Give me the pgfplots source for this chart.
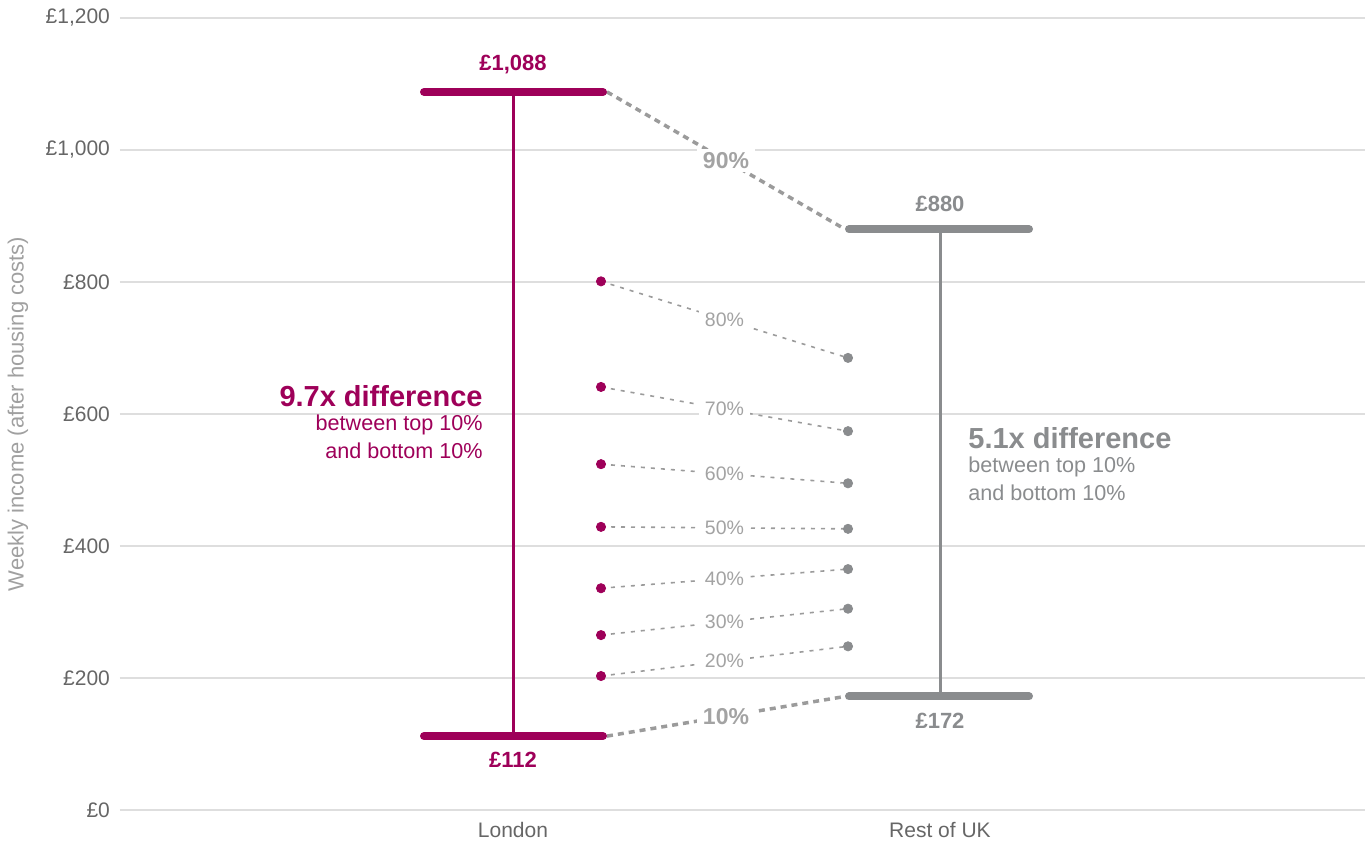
\documentclass[border=0pt]{standalone}
\usepackage{fontspec}
\setmainfont{Liberation Sans}
\usepackage{pgfplots}
\pgfplotsset{compat=1.18}
\definecolor{mag}{HTML}{9E0059}
\definecolor{bargray}{HTML}{8A8C8E}
\definecolor{dashgray}{HTML}{9B9B9B}
\definecolor{pctgray}{HTML}{A3A3A3}
\definecolor{tickgray}{HTML}{666666}
\definecolor{gridgray}{HTML}{DEDEDE}
\definecolor{labgray}{HTML}{A0A0A0}
\tikzset{
  pct/.style={fill=white, inner xsep=3pt, inner ysep=1.5pt, font=\fontsize{9.75}{11}\selectfont, text=pctgray},
  pctb/.style={fill=white, inner xsep=3pt, inner ysep=1.5pt, font=\fontsize{11.5}{13}\selectfont\bfseries, text=pctgray},
}
\begin{document}
\begin{tikzpicture}
\begin{axis}[
  scale only axis, width=622.5pt, height=396pt,
  xmin=120, xmax=1365, ymin=0, ymax=1200,
  axis line style={draw=none},
  major tick length=0pt,
  ytick={0,200,400,600,800,1000,1200},
  yticklabels={£0,£200,£400,£600,£800,{£1,000},{£1,200}},
  xtick={513,940}, xticklabels={London,Rest of UK},
  ymajorgrids, grid style={color=gridgray, line width=0.6pt},
  ticklabel style={font=\fontsize{10.5}{12}\selectfont, color=tickgray},
  yticklabel style={xshift=-1.5pt},
  xticklabel style={yshift=-2.5pt},
  ylabel={Weekly income (after housing costs)},
  ylabel style={at={(rel axis cs:0,0.5)}, anchor=center, yshift=51pt, font=\fontsize{11}{13}\selectfont, color=labgray},
  clip=false,
]
\coordinate (sw) at (rel axis cs:0,0);
\coordinate (ne) at (rel axis cs:1,1);
% thin dashed percentile connectors
\addplot[dashgray, line width=0.8pt, dash pattern=on 2pt off 3pt] coordinates {(601,203) (848,248)};
\addplot[dashgray, line width=0.8pt, dash pattern=on 2pt off 3pt] coordinates {(601,265) (848,305)};
\addplot[dashgray, line width=0.8pt, dash pattern=on 2pt off 3pt] coordinates {(601,336) (848,365)};
\addplot[dashgray, line width=0.8pt, dash pattern=on 2pt off 3pt] coordinates {(601,429) (848,426)};
\addplot[dashgray, line width=0.8pt, dash pattern=on 2pt off 3pt] coordinates {(601,524) (848,495)};
\addplot[dashgray, line width=0.8pt, dash pattern=on 2pt off 3pt] coordinates {(601,641) (848,574)};
\addplot[dashgray, line width=0.8pt, dash pattern=on 2pt off 3pt] coordinates {(601,801) (848,685)};
% thick dashed connectors
\addplot[dashgray, line width=1.75pt, dash pattern=on 3pt off 2.5pt] coordinates {(607,1088) (845,880)};
\addplot[dashgray, line width=1.75pt, dash pattern=on 3pt off 2.5pt] coordinates {(607,112) (845,172)};
% labels
\node[pct] at (axis cs:724.5,225.5) {20\%};
\node[pct] at (axis cs:724.5,285) {30\%};
\node[pct] at (axis cs:724.5,350.5) {40\%};
\node[pct] at (axis cs:724.5,427.5) {50\%};
\node[pct] at (axis cs:724.5,509.5) {60\%};
\node[pct] at (axis cs:724.5,607.5) {70\%};
\node[pct] at (axis cs:724.5,743) {80\%};
\node[pctb] at (axis cs:726,984) {90\%};
\node[pctb] at (axis cs:726,142) {10\%};
% London
\addplot[mag, line width=1.5pt] coordinates {(513,112) (513,1088)};
\addplot[mag, line width=4pt, line cap=round] coordinates {(424,1088) (603,1088)};
\addplot[mag, line width=4pt, line cap=round] coordinates {(424,112) (603,112)};
% Rest of UK
\addplot[bargray, line width=1.5pt] coordinates {(940,172) (940,880)};
\addplot[bargray, line width=4pt, line cap=round] coordinates {(849,880) (1029,880)};
\addplot[bargray, line width=4pt, line cap=round] coordinates {(849,172) (1029,172)};
% dots
\addplot[only marks, mark=*, mark size=2.3pt, color=mag] coordinates {(601,203) (601,265) (601,336) (601,429) (601,524) (601,641) (601,801)};
\addplot[only marks, mark=*, mark size=2.3pt, color=bargray] coordinates {(848,248) (848,305) (848,365) (848,426) (848,495) (848,574) (848,685)};
% value labels
\node[font=\fontsize{11}{13}\selectfont\bfseries, color=mag] at (axis cs:513,1088) [yshift=13.5pt] {£1,088};
\node[font=\fontsize{11}{13}\selectfont\bfseries, color=mag] at (axis cs:513,112) [yshift=-12pt] {£112};
\node[font=\fontsize{11}{13}\selectfont\bfseries, color=bargray] at (axis cs:940,880) [yshift=12.5pt] {£880};
\node[font=\fontsize{11}{13}\selectfont\bfseries, color=bargray] at (axis cs:940,172) [yshift=-12pt] {£172};
% annotations
\node[anchor=east, inner sep=0pt, font=\fontsize{14.5}{16}\selectfont\bfseries, color=mag] at (axis cs:483,627.3) {9.7x difference};
\node[anchor=east, inner sep=0pt, font=\fontsize{10.8}{12}\selectfont, color=mag] at (axis cs:483,583.3) {between top 10\%};
\node[anchor=east, inner sep=0pt, font=\fontsize{10.8}{12}\selectfont, color=mag] at (axis cs:483,543.9) {and bottom 10\%};
\node[anchor=west, inner sep=0pt, font=\fontsize{14.5}{16}\selectfont\bfseries, color=bargray] at (axis cs:968,563.6) {5.1x difference};
\node[anchor=west, inner sep=0pt, font=\fontsize{10.8}{12}\selectfont, color=bargray] at (axis cs:968,519.7) {between top 10\%};
\node[anchor=west, inner sep=0pt, font=\fontsize{10.8}{12}\selectfont, color=bargray] at (axis cs:968,480.3) {and bottom 10\%};
\end{axis}
\pgfresetboundingbox
\path[use as bounding box] ([xshift=-60pt,yshift=-16pt]sw) rectangle ([xshift=3pt,yshift=9pt]ne);
\end{tikzpicture}
\end{document}
